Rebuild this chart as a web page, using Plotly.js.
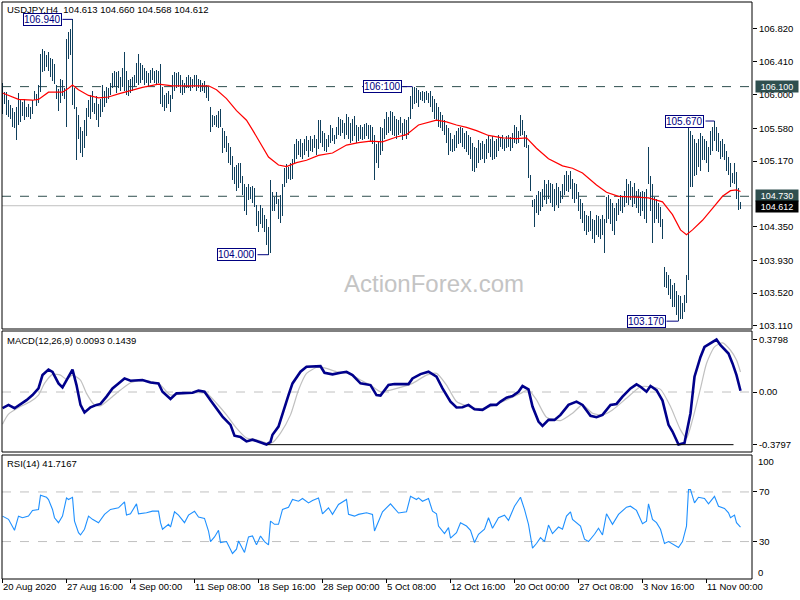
<!DOCTYPE html>
<html><head><meta charset="utf-8">
<script src="https://cdn.plot.ly/plotly-3.0.1.min.js"></script>
<style>html,body{margin:0;padding:0;background:#fff}#chart{width:800px;height:600px}</style>
</head><body><div id="chart"></div>
<script>
// ---- Price bars (USDJPY H4), one entry per bar ----
const barHigh = [
106.14,106.03,106.03,105.93,105.87,105.83,105.78,105.85,106.02,105.93,105.91,105.95,105.85,105.88,105.84,105.93,106.05,106.01,106.12,106.51,
106.57,106.55,106.50,106.53,106.46,106.44,106.38,106.12,106.07,106.20,106.18,106.08,106.70,106.78,106.82,106.94,106.08,105.85,105.75,105.60,
105.55,105.68,105.83,105.93,106.00,106.05,105.90,105.98,105.88,105.95,106.12,106.05,106.10,106.08,106.15,106.27,106.30,106.28,106.30,106.22,
106.33,106.53,106.30,106.18,106.20,106.22,106.25,106.40,106.51,106.40,106.37,106.33,106.30,106.27,106.31,106.33,106.30,106.31,106.30,106.38,
106.10,106.00,106.02,106.05,106.00,106.25,106.28,106.27,106.28,106.25,106.18,106.15,106.22,106.25,106.22,106.20,106.25,106.24,106.20,106.18,
106.15,106.17,106.12,106.10,105.85,105.75,105.73,105.75,105.80,105.82,105.58,105.55,105.48,105.40,105.35,105.23,105.10,105.12,105.15,105.15,
104.98,104.88,104.85,104.88,104.85,104.86,104.83,104.62,104.55,104.62,104.58,104.50,104.45,104.35,104.93,104.78,104.72,104.78,104.70,104.75,
104.88,105.08,105.13,105.10,105.15,105.20,105.38,105.45,105.42,105.45,105.40,105.45,105.48,105.43,105.48,105.45,105.50,105.45,105.68,105.68,
105.55,105.52,105.45,105.50,105.62,105.58,105.50,105.60,105.72,105.70,105.68,105.65,105.76,105.72,105.65,105.70,105.73,105.62,105.60,105.62,
105.60,105.63,105.65,105.62,105.62,105.60,105.50,105.38,105.42,105.60,105.58,105.70,105.78,105.72,105.80,105.78,105.73,105.70,105.68,105.72,
105.65,105.70,105.68,105.72,105.98,106.10,106.09,106.08,106.06,106.03,106.05,106.03,106.05,106.02,106.04,105.98,105.95,105.90,105.85,105.78,
105.75,105.68,105.62,105.58,105.52,105.45,105.50,105.55,105.58,105.60,105.58,105.52,105.55,105.50,105.47,105.40,105.35,105.33,105.43,105.40,
105.42,105.38,105.45,105.50,105.45,105.48,105.42,105.45,105.50,105.47,105.50,105.45,105.48,105.50,105.47,105.52,105.62,105.60,105.55,105.74,
105.68,105.55,105.50,105.37,104.99,104.68,104.70,104.75,104.80,104.78,104.82,104.93,104.88,104.93,104.90,104.88,104.82,104.90,104.85,104.80,
104.88,105.00,105.05,105.00,105.05,104.95,104.90,104.88,104.78,104.70,104.65,104.55,104.50,104.48,104.55,104.45,104.43,104.50,104.48,104.45,
104.50,104.45,104.72,104.74,104.70,104.65,104.58,104.65,104.70,104.75,104.73,104.80,104.95,104.88,104.92,104.85,104.90,104.80,104.82,104.78,
104.80,104.78,104.82,105.35,104.98,104.88,104.72,104.70,104.65,104.60,104.45,103.85,103.78,103.75,103.70,103.62,103.65,103.55,103.50,103.48,
103.40,103.50,103.75,105.62,105.55,105.50,105.45,105.40,105.45,105.52,105.48,105.45,105.42,105.35,105.55,105.60,105.67,105.60,105.52,105.42,
105.44,105.38,105.30,105.22,105.15,105.02,105.15,105.03,104.83,104.66
];
const barLow = [
105.76,105.88,105.74,105.72,105.70,105.60,105.58,105.43,105.62,105.66,105.73,105.68,105.72,105.72,105.70,105.76,105.93,105.86,105.90,106.03,
106.28,106.30,106.34,106.30,106.22,106.17,106.13,105.95,105.80,105.90,105.98,105.95,105.60,106.45,106.50,105.87,105.82,105.18,105.45,105.27,
105.22,105.33,105.48,105.72,105.70,105.78,105.76,105.68,105.60,105.72,105.78,105.85,105.90,105.95,106.00,106.08,106.10,106.02,106.08,106.05,
106.10,106.05,106.00,105.98,106.02,106.05,106.10,106.15,106.12,106.15,106.18,106.12,106.15,106.10,106.14,106.18,106.15,106.12,106.15,105.88,
105.85,105.80,105.83,105.88,105.78,105.95,106.05,106.08,106.10,106.02,106.00,106.02,106.08,106.08,106.05,106.08,106.10,106.05,106.08,106.03,
106.05,106.02,105.96,105.92,105.53,105.60,105.62,105.60,105.58,105.60,105.27,105.33,105.28,105.15,105.12,104.93,104.88,104.80,104.83,104.90,
104.75,104.55,104.50,104.68,104.70,104.65,104.60,104.36,104.28,104.38,104.33,104.28,104.12,104.00,104.02,104.55,104.55,104.63,104.45,104.40,
104.48,104.85,104.90,104.95,104.93,104.95,105.15,105.20,105.25,105.22,105.20,105.25,105.30,105.22,105.30,105.28,105.33,105.25,105.32,105.40,
105.35,105.30,105.28,105.35,105.40,105.42,105.38,105.45,105.50,105.48,105.52,105.45,105.50,105.45,105.40,105.42,105.48,105.40,105.42,105.45,
105.43,105.45,105.48,105.45,105.42,105.38,104.93,105.15,105.08,105.25,105.30,105.45,105.50,105.52,105.55,105.50,105.48,105.45,105.50,105.52,
105.43,105.48,105.45,105.50,105.70,105.82,105.88,105.90,105.85,105.93,105.92,105.90,105.93,105.90,105.85,105.78,105.70,105.68,105.60,105.58,
105.55,105.50,105.40,105.25,105.30,105.28,105.30,105.33,105.38,105.40,105.35,105.32,105.28,105.25,105.20,105.05,105.03,105.08,105.15,105.18,
105.20,105.15,105.20,105.27,105.22,105.18,105.20,105.22,105.30,105.35,105.32,105.30,105.33,105.35,105.30,105.33,105.40,105.38,105.40,105.48,
105.50,105.35,105.33,104.96,104.80,104.60,104.35,104.52,104.50,104.55,104.60,104.68,104.63,104.70,104.65,104.60,104.55,104.62,104.58,104.65,
104.70,104.75,104.80,104.78,104.82,104.70,104.65,104.70,104.55,104.45,104.40,104.30,104.25,104.28,104.30,104.20,104.15,104.25,104.22,104.20,
104.25,104.02,104.40,104.45,104.38,104.30,104.25,104.42,104.50,104.55,104.52,104.60,104.65,104.62,104.68,104.60,104.63,104.58,104.52,104.48,
104.55,104.45,104.40,104.88,104.55,104.15,104.40,104.45,104.40,104.35,104.20,103.60,103.58,103.50,103.45,103.35,103.35,103.25,103.17,103.20,
103.20,103.28,103.40,103.68,104.85,104.85,104.98,105.00,105.10,105.05,105.18,105.18,105.15,105.03,105.25,105.30,105.42,105.30,105.28,105.20,
105.22,105.18,105.05,105.00,104.85,104.90,104.88,104.70,104.56,104.57
];
// ---- Moving average (red), sampled at bar indices ----
const maIdx = [0,8,15,18,23,30,33,35,38,43,48,53,58,65,70,78,85,92,98,103,107,112,117,122,125,130,133,138,142,147,152,158,165,172,178,184,190,197,202,208,217,222,227,232,237,243,250,257,262,267,273,280,285,290,297,302,308,317,323,330,335,339,342,345,350,355,360,364,367,369];
const maVal = [106.02,105.94,105.93,105.94,106.03,106.03,106.08,106.12,106.06,105.99,105.96,105.97,106.01,106.06,106.09,106.13,106.11,106.11,106.11,106.11,106.06,105.95,105.80,105.68,105.56,105.35,105.22,105.12,105.10,105.15,105.18,105.24,105.27,105.37,105.40,105.42,105.41,105.47,105.50,105.62,105.68,105.66,105.62,105.59,105.55,105.49,105.46,105.45,105.46,105.33,105.20,105.11,105.08,105.02,104.87,104.78,104.73,104.72,104.71,104.66,104.50,104.31,104.25,104.31,104.43,104.58,104.73,104.80,104.81,104.79];
// ---- MACD(12,26,9) main line ----
const macdIdx = [0,3,6,9,12,15,18,20,23,25,28,30,33,35,37,39,41,44,47,49,52,55,58,61,64,67,70,74,78,80,84,87,92,95,98,101,104,107,110,114,116,119,122,125,129,132,134,135,138,140,143,145,149,152,155,159,161,165,169,172,175,179,184,187,189,193,196,199,203,205,209,213,217,220,224,227,230,233,236,240,244,247,249,252,255,258,260,263,265,268,270,273,276,279,283,287,290,294,297,300,304,307,310,314,317,319,322,324,327,330,333,335,338,341,344,346,349,351,354,357,359,363,365,367,369];
const macdVal = [-0.117,-0.093,-0.117,-0.088,-0.059,-0.022,0.026,0.122,0.162,0.145,0.062,0.033,0.110,0.162,0.050,-0.093,-0.148,-0.110,-0.093,-0.086,-0.033,0.026,0.062,0.098,0.081,0.081,0.086,0.069,0.062,0.002,-0.050,-0.010,-0.005,-0.005,0.010,0.002,-0.059,-0.117,-0.177,-0.237,-0.315,-0.325,-0.356,-0.344,-0.362,-0.379,-0.360,-0.308,-0.249,-0.153,-0.022,0.062,0.146,0.182,0.186,0.186,0.139,0.127,0.139,0.146,0.122,0.062,0.050,-0.022,-0.026,0.050,0.057,0.057,0.057,0.098,0.129,0.146,0.110,0.026,-0.069,-0.112,-0.110,-0.093,-0.124,-0.129,-0.093,-0.093,-0.069,-0.041,-0.029,0.002,0.043,0.019,-0.105,-0.213,-0.244,-0.201,-0.201,-0.165,-0.093,-0.069,-0.093,-0.172,-0.182,-0.165,-0.093,-0.086,-0.033,0.026,0.055,0.038,0.002,0.043,0.014,-0.062,-0.237,-0.285,-0.379,-0.368,-0.153,0.110,0.253,0.325,0.349,0.378,0.337,0.277,0.206,0.122,0.009];
// ---- MACD signal line ----
const sigIdx = [0,3,9,14,18,21,25,29,32,35,39,42,46,49,54,59,64,69,75,79,84,89,97,102,107,112,117,122,127,132,135,139,144,148,152,158,162,167,174,179,184,189,194,199,205,212,217,222,227,232,239,245,252,259,263,267,272,279,285,290,295,300,305,312,319,324,329,334,339,342,345,349,352,356,360,364,367,369];
const sigVal = [-0.232,-0.160,-0.105,-0.069,-0.022,0.062,0.127,0.122,0.091,0.122,0.086,-0.010,-0.093,-0.100,-0.045,0.014,0.067,0.081,0.074,0.050,-0.022,-0.014,-0.005,-0.010,-0.081,-0.165,-0.261,-0.332,-0.344,-0.368,-0.363,-0.296,-0.165,0.014,0.134,0.182,0.170,0.146,0.129,0.086,0.050,0.002,0.014,0.033,0.062,0.122,0.134,0.050,-0.069,-0.100,-0.122,-0.100,-0.057,-0.010,0.014,-0.057,-0.182,-0.206,-0.153,-0.093,-0.153,-0.165,-0.129,-0.045,0.038,0.038,0.019,-0.105,-0.273,-0.332,-0.201,0.026,0.206,0.325,0.354,0.301,0.230,0.144];
// ---- RSI(14) ----
const rsiIdx = [0,3,6,8,10,13,15,18,19,22,23,25,26,28,30,32,33,35,36,38,39,41,43,45,48,51,54,58,61,62,64,67,68,72,75,78,79,80,83,84,86,88,91,93,96,98,101,103,104,106,108,109,112,115,117,118,121,123,125,127,129,131,133,134,136,138,140,143,145,148,150,153,155,158,160,163,165,168,172,173,176,178,182,185,186,188,190,194,198,202,204,207,208,210,213,215,217,218,221,223,224,227,229,232,234,236,238,241,243,245,248,251,253,256,259,261,263,265,267,269,271,273,275,278,280,282,284,285,289,291,293,296,298,300,302,305,308,312,314,317,320,322,323,325,327,329,331,333,335,338,340,342,343,344,346,348,351,353,356,358,361,363,364,366,367,369];
const rsiVal = [50.5,47.9,39.1,50.5,49.2,50.5,55.1,55.9,67.3,65.7,63.9,55.9,49.2,45.2,50.5,65.2,63.9,65.7,46.5,37.2,35.3,39.9,50.5,47.9,45.2,51.9,55.9,57.2,62.0,51.3,52.4,60.4,52.4,53.2,54.5,54.5,45.2,39.9,43.9,41.7,54.0,51.3,45.2,51.3,54.5,49.7,48.7,38.5,30.0,33.7,39.1,29.2,30.0,20.4,23.9,30.5,21.2,33.7,34.5,27.3,34.5,30.0,27.3,46.5,43.9,43.9,55.9,57.7,63.9,62.5,64.7,61.2,63.1,65.2,52.4,57.2,51.9,59.9,63.9,51.9,50.5,51.9,53.2,51.9,38.5,46.5,54.0,60.4,53.0,54.0,66.5,63.9,65.2,62.5,64.7,54.5,52.4,42.5,36.4,41.2,32.7,37.2,45.2,42.5,39.1,29.2,35.9,39.9,49.2,40.7,49.2,51.3,47.1,58.5,65.7,55.9,43.9,24.7,28.4,33.2,30.0,43.3,36.4,41.7,39.9,50.5,54.0,47.9,42.5,31.9,30.0,35.9,40.7,35.3,52.4,43.9,51.9,57.7,58.5,55.1,44.4,46.5,60.4,47.9,45.2,39.9,28.4,30.0,27.9,25.2,30.0,42.5,71.9,71.9,61.2,65.7,64.7,60.4,66.5,58.5,56.7,53.2,49.2,51.3,45.2,41.7];
// ---- Axis labels ----
const timeTickIdx = [0,32,64,96,128,160,192,224,256,288,320,352];
const timeTickText = ["20 Aug 2020","27 Aug 16:00","4 Sep 00:00","11 Sep 08:00","18 Sep 16:00","28 Sep 00:00","5 Oct 08:00","12 Oct 16:00","20 Oct 00:00","27 Oct 08:00","3 Nov 16:00","11 Nov 00:00"];
const priceTicks = [106.82,106.41,106.00,105.58,105.17,104.35,103.93,103.52,103.11];
const macdTicks = [0.3798,0,-0.3797];
const macdTickText = ["0.3798","0.00","-0.3797"];
const rsiTicks = [70,30];
// ---- Marked levels ----
const levelResistance = 106.10, levelSupport = 104.73, lastPrice = 104.612;
const labelText = ["106.940","106:100","104.000","105.670","103.170"];
const labelPrice = [106.94,106.10,104.00,105.67,103.17];
const labelBoxIdx = [19.75,189.75,116.85,340.75,321.75];
const labelBarIdx = [35,205,133,356,338];
const labelEdgeIdx = [30,200,127.5,351.5,332];
const macdTrendFrom = 132.5, macdTrendTo = 365.5, macdTrendLevel = -0.3797;

const idx = barHigh.map((_, k) => k);
const barLen = barHigh.map((h, k) => +(h - barLow[k]).toFixed(3));

const FONT = "Liberation Sans, Arial, sans-serif";
const traces = [
  {type:'bar', x: idx, y: barLen, base: barLow, width: 0.5, marker:{color:'#0f3f5c', line:{width:0}}, xaxis:'x', yaxis:'y', hoverinfo:'skip'},
  {type:'scatter', mode:'lines', x: maIdx, y: maVal, line:{color:'#ff0000', width:1.2}, xaxis:'x', yaxis:'y'},
  {type:'scatter', mode:'lines', x: sigIdx, y: sigVal, line:{color:'#c0c0c0', width:1.2, shape:'spline', smoothing:0.6}, xaxis:'x', yaxis:'y2'},
  {type:'scatter', mode:'lines', x: macdIdx, y: macdVal, line:{color:'#00008b', width:2.6}, xaxis:'x', yaxis:'y2'},
  {type:'scatter', mode:'lines', x: rsiIdx, y: rsiVal, line:{color:'#1e90ff', width:1.1}, xaxis:'x', yaxis:'y3'}
];

const T = 2, B = 22, H = 600 - T - B;
const dom = (top, bot) => [(600 - B - bot) / H, (600 - B - top) / H];

const shapes = [];
[[2,329],[331,452],[455,579]].forEach(([a,b]) => {
  const d = dom(a,b);
  shapes.push({type:'rect', xref:'paper', yref:'paper', x0:0, x1:1, y0:d[0], y1:d[1], line:{color:'#000', width:1}, layer:'above'});
});
shapes.push({type:'line', xref:'paper', x0:0, x1:1, yref:'y', y0:levelResistance, y1:levelResistance, line:{color:'#2f4f4f', width:1, dash:'dash'}, layer:'below'});
shapes.push({type:'line', xref:'paper', x0:0, x1:1, yref:'y', y0:levelSupport, y1:levelSupport, line:{color:'#2f4f4f', width:1, dash:'dash'}, layer:'below'});
shapes.push({type:'line', xref:'paper', x0:0, x1:1, yref:'y', y0:lastPrice, y1:lastPrice, line:{color:'#c0c0c0', width:1}, layer:'below'});
shapes.push({type:'line', xref:'paper', x0:0, x1:1, yref:'y2', y0:0, y1:0, line:{color:'#c0c0c0', width:1, dash:'dash'}, layer:'below'});
rsiTicks.forEach(v => shapes.push({type:'line', xref:'paper', x0:0, x1:1, yref:'y3', y0:v, y1:v, line:{color:'#c0c0c0', width:1, dash:'dash'}, layer:'below'}));
shapes.push({type:'line', xref:'x', x0:macdTrendFrom, x1:macdTrendTo, yref:'y2', y0:macdTrendLevel, y1:macdTrendLevel, line:{color:'#000', width:1}});
labelPrice.forEach((p, k) => shapes.push({type:'line', xref:'x', x0:labelEdgeIdx[k], x1:labelBarIdx[k], yref:'y', y0:p, y1:p, line:{color:'#000080', width:1}}));

const annotations = [];
labelText.forEach((t, k) => annotations.push({xref:'x', yref:'y', x:labelBoxIdx[k], y:labelPrice[k], text:t, showarrow:false,
  font:{family:FONT, size:10, color:'#000080'}, bgcolor:'#ffffff', bordercolor:'#000080', borderwidth:1, borderpad:0, xanchor:'center', yanchor:'middle'}));
const sideLabel = (v, bg, ys) => ({xref:'paper', yref:'y', x:1, xshift:3, yshift:ys, y:v, text:v.toFixed(3), showarrow:false, xanchor:'left', yanchor:'middle',
  font:{family:FONT, size:9, color:'#ffffff'}, bgcolor:bg, borderpad:0, width:42, height:11, align:'center'});
annotations.push(sideLabel(levelResistance, '#2f4f4f', 0));
annotations.push(sideLabel(levelSupport, '#2f4f4f', 1));
annotations.push(sideLabel(lastPrice, '#000000', -1));
const pTitle = (txt, ypx) => ({xref:'paper', yref:'paper', x:3/750, y:(600-B-ypx)/H, text:txt, showarrow:false, xanchor:'left', yanchor:'middle', font:{family:FONT, size:9.5, color:'#000'}});
annotations.push(pTitle('USDJPY,H4  104.613 104.660 104.568 104.612', 10));
annotations.push(pTitle('MACD(12,26,9) 0.0093 0.1439', 340));
annotations.push(pTitle('RSI(14) 41.7167', 463));
annotations.push({xref:'paper', yref:'paper', x:1, xshift:4, y:(600-B-461)/H, text:'100', showarrow:false, xanchor:'left', yanchor:'middle', font:{family:FONT, size:9.5, color:'#000'}});
annotations.push({xref:'paper', yref:'paper', x:1, xshift:4, y:(600-B-572)/H, text:'0', showarrow:false, xanchor:'left', yanchor:'middle', font:{family:FONT, size:9.5, color:'#000'}});
annotations.push({xref:'paper', yref:'paper', x:(434-2)/750, y:(600-B-283)/H, text:'ActionForex.com', showarrow:false, xanchor:'center', yanchor:'middle', font:{family:FONT, size:24, color:'#c4c4c4'}});

const yBase = {side:'right', showgrid:false, zeroline:false, showline:false, ticks:'outside', ticklen:4, tickcolor:'#000', tickfont:{family:FONT, size:9.5, color:'#000'}, fixedrange:true};
const layout = {
  width:800, height:600, margin:{l:2, r:48, t:T, b:B}, paper_bgcolor:'#fff', plot_bgcolor:'#fff', showlegend:false, bargap:0,
  xaxis:{range:[-0.25,374.75], anchor:'y3', showgrid:false, zeroline:false, showline:false, ticks:'outside', ticklen:4, tickcolor:'#000', tickangle:0,
    tickvals:timeTickIdx, ticktext:timeTickText, ticklabelposition:'outside right', tickfont:{family:FONT, size:9.5, color:'#000'}},
  yaxis: Object.assign({}, yBase, {domain:dom(2,329), range:[103.072,107.157], tickvals:priceTicks, ticktext:priceTicks.map(v=>v.toFixed(3))}),
  yaxis2: Object.assign({}, yBase, {domain:dom(331,452), range:[-0.4326,0.4398], tickvals:macdTicks, ticktext:macdTickText}),
  yaxis3: Object.assign({}, yBase, {domain:dom(455,579), range:[0.6,99.8], tickvals:rsiTicks, ticktext:rsiTicks.map(String)}),
  shapes, annotations
};
Plotly.newPlot('chart', traces, layout, {staticPlot:true, displayModeBar:false});
</script></body></html>
